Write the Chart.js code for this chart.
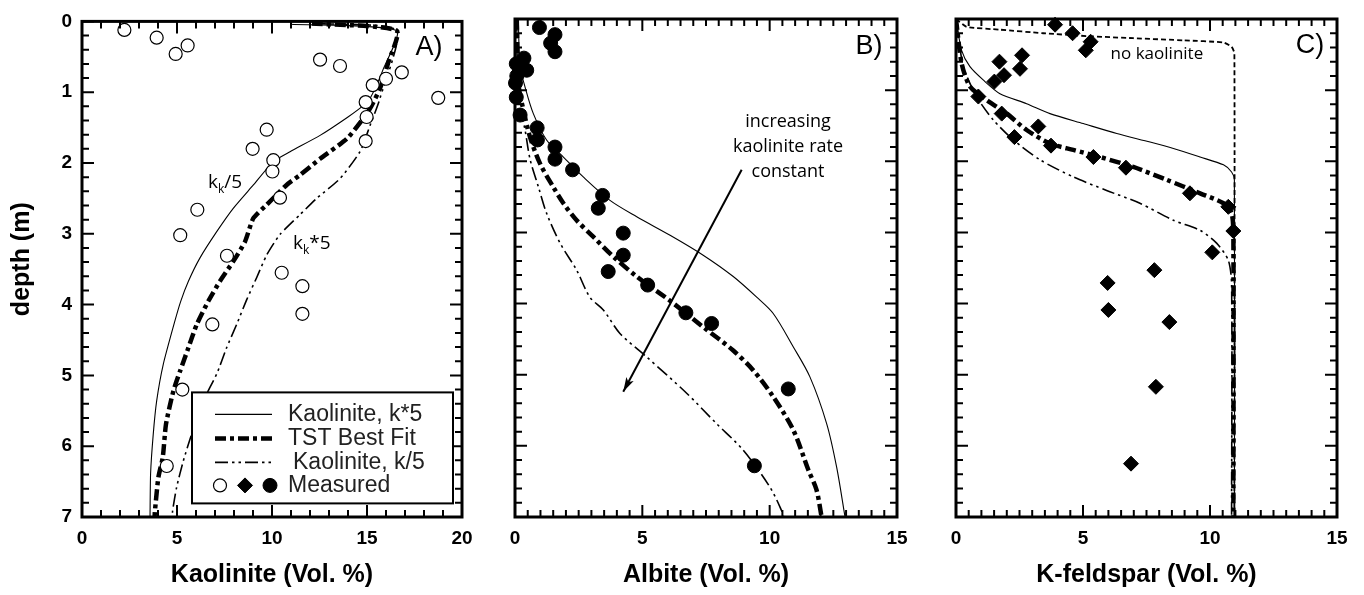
<!DOCTYPE html>
<html>
<head>
<meta charset="utf-8">
<title>Weathering profiles</title>
<script src="https://cdn.jsdelivr.net/npm/chart.js@4.4.1/dist/chart.umd.min.js"></script>
<style>
  body { margin: 0; background: #fff; }
  #wrap { position: relative; width: 1364px; height: 595px; }
  #wrap canvas { position: absolute; top: 0; }
</style>
</head>
<body>
<div id="wrap">
  <canvas id="chartA" width="482" height="595" style="left:0px"></canvas>
  <canvas id="chartB" width="440" height="595" style="left:470px"></canvas>
  <canvas id="chartC" width="454" height="595" style="left:910px"></canvas>
</div>
<script>
// ---- tick labels ----
const kaolTicks = [0, 5, 10, 15, 20];
const feldTicks = [0, 5, 10, 15];
const depthTicks = [0, 1, 2, 3, 4, 5, 6, 7];

// ---- A) kaolinite (vol. %) vs depth (m) ----
const kaolMeasX = [2.23, 3.93, 4.93, 5.56, 12.53, 13.58, 16.83, 16.0, 15.3, 18.75, 14.93, 14.98, 14.93, 9.72, 8.98, 10.07, 10.02, 10.42, 6.07, 5.17, 7.63, 10.51, 11.6, 11.6, 6.86, 5.28, 4.46];
const kaolMeasDepth = [0.12, 0.23, 0.46, 0.34, 0.54, 0.63, 0.72, 0.81, 0.90, 1.08, 1.14, 1.35, 1.69, 1.53, 1.80, 1.96, 2.12, 2.49, 2.66, 3.02, 3.31, 3.55, 3.74, 4.13, 4.28, 5.20, 6.28];

const kaolFastX = [10.95, 16.56, 15.86, 15.16, 14.8, 14.0, 12.53, 10.95, 10.07, 9.02, 7.96, 7.09, 6.21, 5.6, 5.2, 4.89, 4.28, 3.93, 3.75, 3.61, 3.58];
const kaolFastDepth = [0.04, 0.13, 0.67, 1.09, 1.19, 1.35, 1.61, 1.84, 1.98, 2.31, 2.64, 2.97, 3.34, 3.67, 3.95, 4.23, 4.84, 5.36, 5.83, 6.39, 7.0];

const kaolBestX = [12.1, 16.56, 16.12, 15.68, 15.16, 14.72, 13.93, 12.53, 11.47, 10.77, 9.72, 9.02, 8.58, 7.96, 7.26, 6.65, 6.04, 5.6, 5.16, 4.81, 4.42, 4.25, 4.02, 3.84, 3.82];
const kaolBestDepth = [0.03, 0.13, 0.58, 0.95, 1.23, 1.40, 1.66, 1.94, 2.17, 2.31, 2.59, 2.78, 3.11, 3.39, 3.67, 3.95, 4.28, 4.61, 4.94, 5.22, 5.69, 6.16, 6.44, 6.91, 7.0];

const kaolSlowX = [12.6, 16.56, 15.68, 15.16, 14.63, 13.58, 12.35, 11.47, 10.42, 9.72, 9.19, 8.67, 8.14, 7.61, 7.09, 6.38, 5.77, 5.33, 4.98, 4.77, 4.75];
const kaolSlowDepth = [0.03, 0.13, 1.09, 1.47, 1.84, 2.22, 2.5, 2.73, 3.01, 3.30, 3.62, 3.93, 4.28, 4.61, 4.98, 5.36, 5.83, 6.21, 6.58, 6.91, 7.0];

// ---- B) albite ----
const albMeasX = [0.96, 1.57, 1.40, 1.57, 0.35, 0.05, 0.46, 0.07, 0.02, 0.05, 0.2, 0.87, 0.88, 1.57, 1.57, 2.26, 3.44, 3.27, 4.25, 4.25, 3.66, 5.21, 6.71, 7.72, 10.73, 9.4];
const albMeasDepth = [0.12, 0.22, 0.34, 0.46, 0.55, 0.63, 0.72, 0.80, 0.90, 1.10, 1.35, 1.53, 1.70, 1.80, 1.97, 2.12, 2.48, 2.66, 3.01, 3.32, 3.55, 3.74, 4.13, 4.28, 5.20, 6.28];

const albFastX = [0.13, 0.2, 0.39, 0.72, 1.24, 1.9, 2.68, 3.73, 4.78, 6.09, 7.39, 8.57, 9.49, 10.14, 10.93, 11.58, 12.24, 12.63, 12.96];
const albFastDepth = [0, 0.67, 0.95, 1.33, 1.70, 1.94, 2.22, 2.55, 2.78, 3.04, 3.32, 3.62, 3.91, 4.14, 4.61, 5.03, 5.69, 6.30, 7.0];

const albBestX = [0.07, 0.13, 0.33, 0.59, 0.98, 1.5, 1.9, 2.42, 3.07, 3.86, 4.78, 6.05, 7.39, 8.57, 9.36, 10.14, 10.93, 11.52, 11.84, 12.04];
const albBestDepth = [0, 0.9, 1.28, 1.66, 2.03, 2.36, 2.59, 2.83, 3.06, 3.34, 3.62, 3.95, 4.33, 4.66, 4.94, 5.31, 5.78, 6.34, 6.62, 7.0];

const albSlowX = [0.07, 0.13, 0.39, 0.59, 0.92, 1.24, 1.77, 2.42, 2.94, 3.47, 4.12, 5.17, 6.74, 7.92, 8.96, 10.01, 10.47, 10.55];
const albSlowDepth = [0, 1.14, 1.55, 1.97, 2.36, 2.73, 3.15, 3.53, 3.91, 4.09, 4.42, 4.75, 5.26, 5.69, 6.06, 6.58, 6.91, 7.0];

// ---- C) K-feldspar ----
const kfsMeasX = [3.9, 4.59, 5.30, 5.11, 1.71, 2.6, 2.52, 1.89, 1.51, 0.88, 1.8, 2.30, 3.24, 3.74, 5.41, 6.69, 9.21, 10.72, 10.92, 10.09, 7.81, 5.97, 6.0, 8.4, 7.87, 6.89];
const kfsMeasDepth = [0.08, 0.20, 0.32, 0.44, 0.60, 0.51, 0.70, 0.79, 0.88, 1.09, 1.33, 1.66, 1.51, 1.78, 1.94, 2.09, 2.45, 2.64, 2.98, 3.28, 3.53, 3.71, 4.09, 4.26, 5.17, 6.25];

const kfsFastX = [0, 0.22, 0.55, 1.08, 1.73, 2.78, 3.70, 5.01, 6.33, 7.64, 8.56, 9.61, 10.53, 10.85, 10.96, 10.96];
const kfsFastDepth = [0, 0.44, 0.67, 0.86, 1.05, 1.19, 1.33, 1.47, 1.61, 1.73, 1.82, 1.94, 2.05, 2.15, 2.26, 7.0];

const kfsBestX = [0, 0.22, 0.55, 1.21, 2.0, 2.78, 3.70, 4.62, 5.67, 6.98, 8.29, 9.61, 10.53, 10.85, 10.92, 10.92];
const kfsBestDepth = [0, 0.62, 0.95, 1.14, 1.33, 1.56, 1.75, 1.84, 1.94, 2.08, 2.26, 2.45, 2.59, 2.73, 3.01, 7.0];

const kfsSlowX = [0, 0.29, 0.81, 1.47, 2.26, 3.31, 4.62, 5.93, 7.24, 8.56, 9.61, 10.26, 10.72, 10.85, 10.85];
const kfsSlowDepth = [0, 0.67, 1.09, 1.42, 1.70, 1.98, 2.22, 2.41, 2.59, 2.83, 2.97, 3.15, 3.39, 3.72, 7.0];

const kfsNoKaolX = [0, 0.42, 1.73, 3.44, 5.15, 6.98, 8.96, 10.53, 10.85, 10.96, 10.96];
const kfsNoKaolDepth = [0, 0.11, 0.15, 0.20, 0.24, 0.27, 0.30, 0.33, 0.39, 0.48, 7.0];

// ---- styles ----
const BOLD = 'Liberation Sans, Arial, Helvetica, sans-serif';
const solidStyle = { borderWidth: 1.1, borderDash: [] };
const bestStyle = { borderWidth: 4.5, borderDash: [11, 4, 4, 4] };
const slowStyle = { borderWidth: 1.6, borderDash: [13, 4, 2.5, 4, 2.5, 4] };
const dotStyle = { borderWidth: 1.8, borderDash: [5, 3] };
const openCircle = { pointStyle: 'circle', pointRadius: 6.5, backgroundColor: '#fff', borderColor: '#000', borderWidth: 1.2 };
const fullCircle = { pointStyle: 'circle', pointRadius: 7, backgroundColor: '#000', borderColor: '#000', borderWidth: 1 };
const diamond = { pointStyle: 'rectRot', pointRadius: 7.5, backgroundColor: '#000', borderColor: '#000', borderWidth: 1 };

function pts(xs, ds) {
  return xs.map((x, i) => ({ x: x, y: ds[i] }));
}

function curve(label, xs, ds, style, tension) {
  return Object.assign({
    label: label, data: pts(xs, ds), showLine: true, pointRadius: 0,
    borderColor: '#000', fill: false, tension: tension === undefined ? 0.3 : tension
  }, style);
}

function marks(label, xs, ds, style) {
  return Object.assign({ label: label, data: pts(xs, ds), showLine: false, clip: 12 }, style);
}

// inward ticks on all 4 sides + heavy frame
const frameTicks = {
  id: 'frameTicks',
  afterDatasetsDraw(chart, args, opts) {
    const { ctx, chartArea: a, scales: { x, y } } = chart;
    ctx.save();
    ctx.strokeStyle = '#000';
    ctx.lineWidth = 2;
    ctx.setLineDash([]);
    ctx.beginPath();
    for (let v = x.min; v <= x.max + 1e-6; v += opts.xMinor) {
      const px = x.getPixelForValue(v);
      const len = Math.abs(v / 5 - Math.round(v / 5)) < 1e-6 ? 12 : 7;
      ctx.moveTo(px, a.bottom); ctx.lineTo(px, a.bottom - len);
      ctx.moveTo(px, a.top); ctx.lineTo(px, a.top + len);
    }
    for (let d = 0; d <= 7 + 1e-6; d += 0.2) {
      const py = y.getPixelForValue(d);
      const len = Math.abs(d - Math.round(d)) < 1e-6 ? 12 : 7;
      ctx.moveTo(a.left, py); ctx.lineTo(a.left + len, py);
      ctx.moveTo(a.right, py); ctx.lineTo(a.right - len, py);
    }
    ctx.stroke();
    ctx.lineWidth = 3;
    ctx.strokeRect(a.left, a.top, a.right - a.left, a.bottom - a.top);
    ctx.restore();
  }
};

// text notes and arrow, positioned in data units
const notes = {
  id: 'notes',
  afterDraw(chart, args, opts) {
    const { ctx, chartArea: a, scales: { x, y } } = chart;
    ctx.save();
    ctx.fillStyle = '#000';
    (opts.items || []).forEach(n => {
      let px = x.getPixelForValue(n.x);
      const py = y.getPixelForValue(n.y);
      const main = n.size + 'px ' + n.family;
      if (n.sub) {
        ctx.textAlign = 'left';
        ctx.textBaseline = 'alphabetic';
        ctx.font = main;
        ctx.fillText(n.base, px, py);
        px += ctx.measureText(n.base).width;
        ctx.font = Math.round(n.size * 0.65) + 'px ' + n.family;
        ctx.fillText(n.sub, px, py + 5);
        px += ctx.measureText(n.sub).width;
        ctx.font = main;
        ctx.fillText(n.rest, px, py);
      } else {
        ctx.font = main;
        ctx.textAlign = n.align || 'center';
        ctx.textBaseline = 'middle';
        ctx.fillText(n.text, px, py);
      }
    });
    if (opts.yTitle) {
      // rotated depth label, a little above the plot's mid-height as in the original
      ctx.save();
      ctx.translate(a.left - 60, (a.top + a.bottom) / 2 - 10);
      ctx.rotate(-Math.PI / 2);
      ctx.font = 'bold 25px ' + BOLD;
      ctx.textAlign = 'center';
      ctx.textBaseline = 'middle';
      ctx.fillText(opts.yTitle, 0, 0);
      ctx.restore();
    }
    if (opts.arrow) {
      const x1 = x.getPixelForValue(opts.arrow.from[0]), y1 = y.getPixelForValue(opts.arrow.from[1]);
      const x2 = x.getPixelForValue(opts.arrow.to[0]), y2 = y.getPixelForValue(opts.arrow.to[1]);
      const ang = Math.atan2(y2 - y1, x2 - x1);
      ctx.strokeStyle = '#000';
      ctx.lineWidth = 2;
      ctx.beginPath();
      ctx.moveTo(x1, y1); ctx.lineTo(x2, y2);
      ctx.stroke();
      ctx.beginPath();
      ctx.moveTo(x2, y2);
      ctx.lineTo(x2 - 15 * Math.cos(ang - 0.28), y2 - 15 * Math.sin(ang - 0.28));
      ctx.lineTo(x2 - 11 * Math.cos(ang), y2 - 11 * Math.sin(ang));
      ctx.lineTo(x2 - 15 * Math.cos(ang + 0.28), y2 - 15 * Math.sin(ang + 0.28));
      ctx.closePath();
      ctx.fill();
    }
    ctx.restore();
  }
};

// the key box in panel A
const keyBox = {
  id: 'keyBox',
  afterDraw(chart, args, opts) {
    const { ctx, chartArea: a } = chart;
    const bx = a.left + opts.dx, by = a.top + opts.dy;
    ctx.save();
    ctx.fillStyle = '#fff';
    ctx.fillRect(bx, by, opts.w, opts.h);
    ctx.strokeStyle = '#000';
    ctx.lineWidth = 2;
    ctx.setLineDash([]);
    ctx.strokeRect(bx, by, opts.w, opts.h);
    const rows = [
      { text: 'Kaolinite, k*5', style: solidStyle, tx: 96 },
      { text: 'TST Best Fit', style: bestStyle, tx: 96 },
      { text: 'Kaolinite, k/5', style: slowStyle, tx: 101 },
      { text: 'Measured', marks: true, tx: 96 }
    ];
    const rowY = [22, 46, 70, 93];
    ctx.font = '23px ' + BOLD;
    ctx.textBaseline = 'middle';
    ctx.textAlign = 'left';
    rows.forEach((r, i) => {
      const yy = by + rowY[i];
      if (r.marks) {
        [[28, openCircle], [53, diamond], [78, fullCircle]].forEach(([ox, st]) => {
          ctx.setLineDash([]);
          ctx.lineWidth = st.borderWidth;
          ctx.fillStyle = st.backgroundColor;
          ctx.strokeStyle = '#000';
          ctx.beginPath();
          if (st.pointStyle === 'rectRot') {
            const r0 = st.pointRadius;
            ctx.moveTo(bx + ox - r0, yy); ctx.lineTo(bx + ox, yy - r0);
            ctx.lineTo(bx + ox + r0, yy); ctx.lineTo(bx + ox, yy + r0);
            ctx.closePath();
          } else {
            ctx.arc(bx + ox, yy, st.pointRadius, 0, Math.PI * 2);
          }
          ctx.fill();
          ctx.stroke();
        });
      } else {
        ctx.strokeStyle = '#000';
        ctx.lineWidth = r.style.borderWidth;
        ctx.setLineDash(r.style.borderDash);
        ctx.beginPath();
        ctx.moveTo(bx + 23, yy); ctx.lineTo(bx + 80, yy);
        ctx.stroke();
      }
      ctx.setLineDash([]);
      ctx.fillStyle = '#222';
      ctx.fillText(r.text, bx + r.tx, yy);
    });
    ctx.restore();
  }
};

function buildPanel(id, cfg) {
  return new Chart(document.getElementById(id), {
    type: 'scatter',
    data: { datasets: cfg.datasets },
    options: {
      responsive: false,
      animation: false,
      events: [],
      layout: { padding: { top: 19, right: cfg.padRight, left: 0, bottom: 0 } },
      plugins: {
        legend: { display: false },
        tooltip: { enabled: false },
        frameTicks: { xMinor: cfg.xMinor },
        notes: { items: cfg.notes, arrow: cfg.arrow, yTitle: cfg.yLabels ? 'depth (m)' : null },
        keyBox: cfg.keyBox || false
      },
      scales: {
        x: {
          type: 'linear', min: 0, max: cfg.xTicks[cfg.xTicks.length - 1],
          afterBuildTicks: s => { s.ticks = cfg.xTicks.map(v => ({ value: v })); },
          afterFit: s => { s.height = 78; s.paddingLeft = 0; s.paddingRight = 0; },
          grid: { display: false, drawTicks: false },
          border: { display: false },
          ticks: { color: '#000', padding: 10, maxRotation: 0, autoSkip: false, font: { family: BOLD, size: 19, weight: 'bold' } },
          title: { display: true, text: cfg.xTitle, color: '#000', font: { family: BOLD, size: 25, weight: 'bold' }, padding: { top: 0, bottom: 5 } }
        },
        y: {
          type: 'linear', reverse: true, min: 0, max: 7,
          afterBuildTicks: s => { s.ticks = depthTicks.map(v => ({ value: v })); },
          afterFit: s => { s.width = cfg.yWidth; },
          grid: { display: false, drawTicks: false },
          border: { display: false },
          ticks: { display: cfg.yLabels, color: '#000', padding: 10, font: { family: BOLD, size: 19, weight: 'bold' } },
          title: { display: false }
        }
      }
    },
    plugins: [frameTicks, notes, keyBox]
  });
}

const NOTE = 'Open Sans, DejaVu Sans, sans-serif';
const HELV = 'Liberation Sans, Arial, sans-serif';

buildPanel('chartA', {
  xTicks: kaolTicks, xMinor: 1, xTitle: 'Kaolinite (Vol. %)', yWidth: 82, yLabels: true, padRight: 20,
  datasets: [
    marks('Measured', kaolMeasX, kaolMeasDepth, openCircle),
    curve('Kaolinite, k*5', kaolFastX, kaolFastDepth, solidStyle, 0.2),
    curve('TST Best Fit', kaolBestX, kaolBestDepth, bestStyle, 0.2),
    curve('Kaolinite, k/5', kaolSlowX, kaolSlowDepth, slowStyle, 0.2)
  ],
  notes: [
    { text: 'A)', x: 18.26, y: 0.37, size: 27, family: HELV },
    { sub: true, base: 'k', sub: 'k', rest: '/5', x: 6.63, y: 2.36, size: 19, family: NOTE },
    { sub: true, base: 'k', sub: 'k', rest: '*5', x: 11.1, y: 3.22, size: 19, family: NOTE }
  ],
  keyBox: { dx: 110, dy: 371, w: 261, h: 111 }
});

buildPanel('chartB', {
  xTicks: feldTicks, xMinor: 0.5, xTitle: 'Albite (Vol. %)', yWidth: 45, yLabels: false, padRight: 13,
  datasets: [
    marks('Measured', albMeasX, albMeasDepth, fullCircle),
    curve('Kaolinite, k*5', albFastX, albFastDepth, solidStyle, 0.3),
    curve('TST Best Fit', albBestX, albBestDepth, bestStyle, 0.3),
    curve('Kaolinite, k/5', albSlowX, albSlowDepth, slowStyle, 0.3)
  ],
  notes: [
    { text: 'B)', x: 13.9, y: 0.39, size: 27, family: HELV },
    { text: 'increasing', x: 10.72, y: 1.45, size: 18, family: NOTE },
    { text: 'kaolinite rate', x: 10.72, y: 1.80, size: 18, family: NOTE },
    { text: 'constant', x: 10.72, y: 2.15, size: 18, family: NOTE }
  ],
  arrow: { from: [8.9, 2.12], to: [4.25, 5.24] }
});

buildPanel('chartC', {
  xTicks: feldTicks, xMinor: 0.5, xTitle: 'K-feldspar (Vol. %)', yWidth: 46, yLabels: false, padRight: 27,
  datasets: [
    curve('no kaolinite', kfsNoKaolX, kfsNoKaolDepth, dotStyle, 0.15),
    curve('Kaolinite, k*5', kfsFastX, kfsFastDepth, solidStyle, 0.25),
    curve('TST Best Fit', kfsBestX, kfsBestDepth, bestStyle, 0.25),
    curve('Kaolinite, k/5', kfsSlowX, kfsSlowDepth, slowStyle, 0.25),
    marks('Measured', kfsMeasX, kfsMeasDepth, diamond)
  ],
  notes: [
    { text: 'C)', x: 13.94, y: 0.38, size: 27, family: HELV },
    { text: 'no kaolinite', x: 7.91, y: 0.49, size: 17, family: NOTE }
  ]
});
</script>
</body>
</html>
